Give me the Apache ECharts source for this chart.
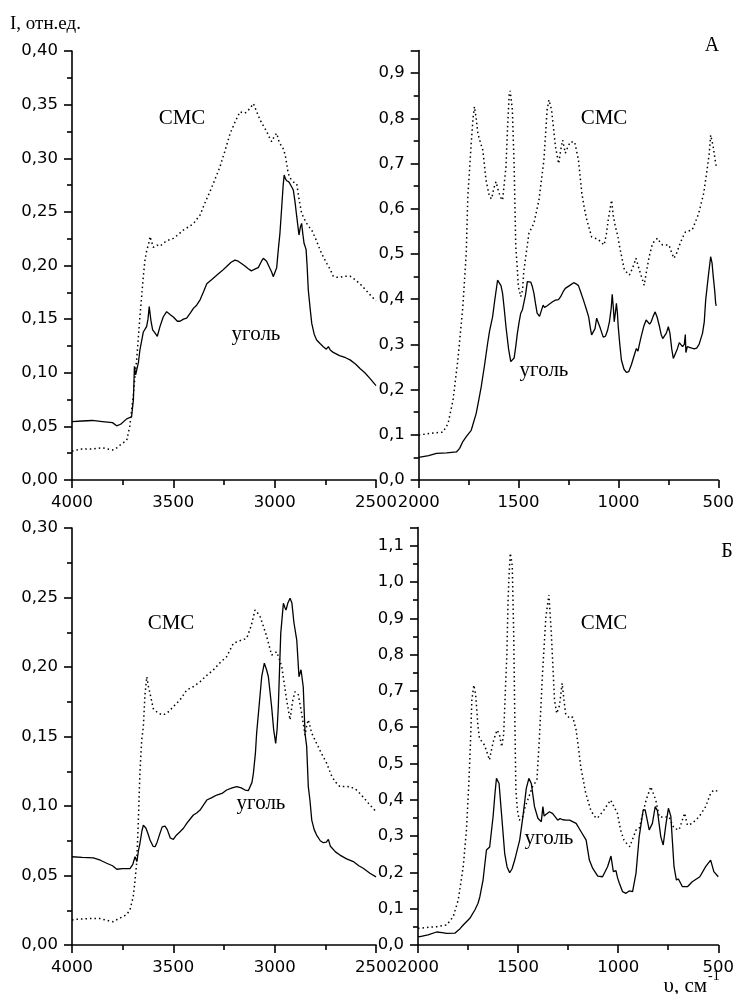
<!DOCTYPE html>
<html>
<head>
<meta charset="utf-8">
<script src="https://cdn.jsdelivr.net/npm/echarts@6/dist/echarts.min.js"></script>
<style>
  html, body { margin: 0; padding: 0; background: #fff; }
  #chart { width: 737px; height: 994px; }
</style>
</head>
<body>
<div id="chart"></div>
<script>
// IR spectra: coal ("уголь", solid) and detergent ("СМС", dotted), samples А and Б.
// Each curve: [wavenumber cm-1, intensity rel. units]

const xTicksHigh = [4000, 3500, 3000, 2500];
const xTicksLow = [2000, 1500, 1000, 500];

// Sample А, 4000–2500 cm-1
const coalA_high = [[4000,0.0545],[3950,0.055],[3900,0.0555],[3850,0.0545],[3800,0.0535],[3780,0.0505],[3760,0.052],[3730,0.057],[3706,0.059],[3697,0.075],[3692,0.106],[3686,0.098],[3681,0.097],[3672,0.110],[3665,0.121],[3648,0.138],[3632,0.143],[3625,0.150],[3619,0.1616],[3610,0.148],[3602,0.140],[3590,0.137],[3579,0.134],[3566,0.143],[3550,0.152],[3533,0.157],[3515,0.154],[3500,0.152],[3480,0.148],[3467,0.148],[3450,0.150],[3434,0.151],[3415,0.156],[3401,0.160],[3385,0.163],[3368,0.168],[3350,0.176],[3335,0.183],[3310,0.187],[3286,0.191],[3260,0.195],[3237,0.199],[3215,0.203],[3196,0.205],[3180,0.204],[3171,0.204],[3150,0.200],[3130,0.197],[3115,0.195],[3105,0.196],[3093,0.197],[3081,0.198],[3065,0.204],[3056,0.2067],[3040,0.204],[3031,0.203],[3015,0.194],[3007,0.1896],[2998,0.1896],[2990,0.198],[2982,0.215],[2974,0.230],[2965,0.255],[2958,0.275],[2953,0.2844],[2947,0.281],[2941,0.279],[2930,0.278],[2924,0.276],[2915,0.273],[2908,0.2704],[2900,0.260],[2891,0.2455],[2880,0.2284],[2873,0.236],[2867,0.2393],[2860,0.228],[2855,0.2207],[2845,0.215],[2840,0.200],[2834,0.177],[2825,0.160],[2817,0.146],[2805,0.136],[2793,0.1305],[2775,0.127],[2760,0.1243],[2745,0.122],[2735,0.1243],[2725,0.121],[2711,0.119],[2680,0.116],[2650,0.114],[2628,0.112],[2600,0.108],[2579,0.104],[2555,0.100],[2530,0.0948],[2500,0.088]];
const smsA_high = [[4000,0.027],[3950,0.029],[3900,0.029],[3850,0.030],[3800,0.028],[3785,0.029],[3760,0.033],[3730,0.037],[3715,0.050],[3698,0.078],[3690,0.095],[3681,0.112],[3673,0.132],[3665,0.152],[3656,0.172],[3648,0.19],[3640,0.205],[3631,0.2145],[3622,0.220],[3615,0.227],[3607,0.222],[3599,0.217],[3580,0.219],[3566,0.218],[3540,0.222],[3520,0.224],[3500,0.2253],[3475,0.229],[3451,0.233],[3425,0.236],[3401,0.239],[3385,0.243],[3368,0.247],[3345,0.258],[3319,0.269],[3295,0.280],[3270,0.292],[3245,0.307],[3220,0.323],[3195,0.334],[3171,0.3434],[3150,0.342],[3138,0.343],[3120,0.347],[3105,0.351],[3090,0.344],[3072,0.3357],[3055,0.330],[3039,0.3248],[3025,0.319],[3015,0.3155],[3000,0.321],[2990,0.3233],[2978,0.315],[2965,0.311],[2955,0.308],[2945,0.300],[2935,0.288],[2928,0.283],[2918,0.280],[2908,0.278],[2899,0.279],[2891,0.276],[2880,0.262],[2867,0.2487],[2858,0.247],[2845,0.240],[2830,0.236],[2817,0.233],[2800,0.226],[2776,0.2145],[2760,0.208],[2743,0.202],[2725,0.196],[2711,0.19],[2695,0.189],[2678,0.189],[2655,0.190],[2628,0.190],[2605,0.187],[2579,0.183],[2550,0.177],[2521,0.171],[2500,0.167]];

// Sample А, 2000–500 cm-1
const coalA_low = [[2000,0.050],[1994,0.050],[1950,0.054],[1911,0.059],[1860,0.060],[1811,0.062],[1795,0.070],[1779,0.085],[1760,0.097],[1737,0.11],[1712,0.1475],[1700,0.175],[1687,0.206],[1670,0.255],[1655,0.302],[1645,0.330],[1630,0.361],[1620,0.395],[1605,0.442],[1597,0.442],[1588,0.430],[1580,0.413],[1572,0.380],[1563,0.339],[1550,0.290],[1539,0.262],[1530,0.260],[1522,0.27],[1514,0.295],[1506,0.3245],[1497,0.350],[1489,0.369],[1481,0.376],[1473,0.38],[1465,0.410],[1456,0.439],[1447,0.441],[1439,0.438],[1431,0.428],[1423,0.413],[1415,0.390],[1407,0.369],[1395,0.362],[1385,0.358],[1377,0.387],[1370,0.382],[1358,0.385],[1340,0.391],[1328,0.395],[1315,0.398],[1300,0.399],[1290,0.405],[1275,0.418],[1266,0.424],[1245,0.430],[1224,0.4366],[1212,0.434],[1200,0.43],[1188,0.415],[1175,0.398],[1162,0.380],[1149,0.361],[1140,0.335],[1134,0.321],[1125,0.319],[1117,0.335],[1109,0.358],[1100,0.355],[1090,0.335],[1076,0.316],[1065,0.318],[1055,0.330],[1045,0.350],[1036,0.380],[1031,0.411],[1025,0.380],[1021,0.350],[1015,0.370],[1010,0.391],[1005,0.370],[1001,0.340],[993,0.300],[985,0.2655],[972,0.245],[960,0.238],[948,0.240],[935,0.255],[927,0.258],[918,0.280],[910,0.291],[902,0.285],[895,0.300],[886,0.317],[873,0.340],[861,0.354],[852,0.350],[844,0.345],[836,0.350],[826,0.362],[816,0.372],[806,0.360],[794,0.339],[786,0.322],[778,0.313],[770,0.310],[760,0.325],[750,0.339],[742,0.325],[733,0.290],[725,0.269],[715,0.270],[705,0.290],[695,0.304],[686,0.300],[679,0.295],[670,0.300],[665,0.322],[662,0.282],[655,0.295],[645,0.299],[633,0.292],[621,0.290],[608,0.292],[596,0.300],[579,0.3245],[570,0.350],[563,0.398],[550,0.45],[538,0.494],[531,0.480],[525,0.45],[518,0.420],[513,0.391],[510,0.385]];
const smsA_low = [[2000,0.0996],[1960,0.102],[1928,0.104],[1878,0.106],[1853,0.125],[1828,0.177],[1804,0.2655],[1779,0.383],[1762,0.5015],[1754,0.627],[1737,0.745],[1728,0.80],[1721,0.826],[1712,0.80],[1704,0.767],[1690,0.745],[1679,0.730],[1663,0.664],[1646,0.627],[1635,0.622],[1624,0.645],[1613,0.66],[1600,0.638],[1590,0.625],[1580,0.619],[1563,0.693],[1555,0.78],[1547,0.852],[1542,0.861],[1535,0.835],[1531,0.819],[1522,0.693],[1514,0.516],[1508,0.48],[1501,0.428],[1489,0.4056],[1480,0.42],[1474,0.46],[1464,0.494],[1456,0.52],[1448,0.546],[1423,0.568],[1398,0.619],[1373,0.708],[1357,0.819],[1348,0.841],[1335,0.82],[1315,0.737],[1299,0.70],[1289,0.73],[1279,0.752],[1266,0.723],[1255,0.735],[1241,0.748],[1219,0.748],[1200,0.708],[1183,0.634],[1170,0.60],[1158,0.575],[1134,0.538],[1100,0.532],[1085,0.525],[1071,0.52],[1060,0.545],[1051,0.575],[1040,0.605],[1034,0.619],[1026,0.586],[1015,0.560],[1011,0.56],[1003,0.54],[994,0.516],[970,0.4646],[945,0.4535],[928,0.47],[912,0.4905],[895,0.4646],[871,0.431],[860,0.46],[846,0.494],[829,0.5236],[815,0.53],[804,0.535],[790,0.525],[779,0.52],[747,0.52],[735,0.505],[722,0.4905],[710,0.50],[697,0.516],[680,0.535],[664,0.549],[631,0.553],[615,0.57],[598,0.590],[573,0.634],[556,0.686],[545,0.723],[538,0.763],[525,0.737],[513,0.70],[510,0.695]];

// Sample Б, 4000–2500 cm-1
const coalB_high = [[4000,0.0635],[3950,0.063],[3895,0.0627],[3860,0.061],[3829,0.0588],[3800,0.057],[3779,0.0545],[3750,0.055],[3714,0.055],[3700,0.058],[3689,0.0635],[3680,0.060],[3672,0.068],[3665,0.073],[3655,0.082],[3648,0.0863],[3635,0.084],[3625,0.080],[3615,0.0755],[3600,0.071],[3590,0.0707],[3580,0.074],[3566,0.0803],[3555,0.085],[3541,0.0856],[3530,0.083],[3515,0.077],[3500,0.076],[3485,0.079],[3467,0.0815],[3450,0.084],[3434,0.0875],[3415,0.091],[3401,0.0935],[3385,0.095],[3368,0.0971],[3350,0.101],[3335,0.1043],[3310,0.106],[3286,0.1079],[3260,0.109],[3237,0.1115],[3210,0.113],[3187,0.1139],[3165,0.113],[3146,0.1115],[3130,0.111],[3122,0.112],[3112,0.117],[3105,0.1235],[3095,0.138],[3089,0.1523],[3075,0.175],[3064,0.193],[3051,0.2027],[3040,0.198],[3031,0.193],[3015,0.1714],[3005,0.155],[2995,0.1451],[2988,0.155],[2982,0.1714],[2970,0.2242],[2957,0.2458],[2950,0.243],[2944,0.241],[2935,0.246],[2924,0.2494],[2915,0.246],[2905,0.232],[2891,0.2194],[2880,0.193],[2870,0.198],[2859,0.1858],[2850,0.152],[2842,0.1427],[2834,0.1139],[2826,0.1043],[2817,0.0899],[2805,0.083],[2793,0.0791],[2775,0.075],[2760,0.0736],[2745,0.074],[2735,0.076],[2725,0.071],[2719,0.0696],[2700,0.067],[2678,0.0647],[2645,0.062],[2612,0.060],[2585,0.057],[2563,0.0552],[2530,0.0516],[2500,0.049]];
const smsB_high = [[4000,0.018],[3977,0.0185],[3920,0.019],[3862,0.019],[3820,0.0175],[3796,0.0168],[3770,0.019],[3747,0.0204],[3730,0.022],[3714,0.0252],[3698,0.0347],[3690,0.045],[3681,0.0588],[3673,0.0876],[3665,0.1235],[3656,0.1475],[3648,0.157],[3640,0.180],[3631,0.193],[3623,0.186],[3615,0.181],[3599,0.170],[3574,0.1667],[3550,0.1655],[3530,0.167],[3516,0.169],[3490,0.173],[3467,0.1763],[3434,0.1835],[3400,0.186],[3368,0.1894],[3335,0.194],[3303,0.1978],[3270,0.203],[3237,0.2074],[3204,0.217],[3170,0.219],[3138,0.2206],[3115,0.230],[3097,0.241],[3085,0.239],[3072,0.2362],[3055,0.229],[3039,0.2218],[3015,0.2086],[3000,0.210],[2990,0.211],[2978,0.206],[2965,0.2002],[2941,0.1763],[2924,0.162],[2912,0.175],[2900,0.1822],[2883,0.180],[2867,0.1667],[2850,0.151],[2842,0.158],[2834,0.162],[2817,0.1523],[2793,0.1451],[2770,0.138],[2743,0.1307],[2720,0.122],[2702,0.1175],[2678,0.1139],[2650,0.114],[2628,0.1139],[2600,0.112],[2579,0.109],[2555,0.105],[2530,0.1007],[2500,0.096]];

// Sample Б, 2000–500 cm-1
const coalB_low = [[2000,0.023],[1990,0.0229],[1950,0.028],[1907,0.0358],[1880,0.034],[1857,0.032],[1816,0.0326],[1790,0.045],[1774,0.055],[1741,0.0735],[1716,0.0964],[1700,0.115],[1691,0.133],[1675,0.179],[1658,0.2617],[1650,0.2663],[1642,0.270],[1625,0.3534],[1615,0.42],[1608,0.459],[1600,0.455],[1595,0.445],[1583,0.3628],[1567,0.2526],[1555,0.215],[1542,0.199],[1530,0.210],[1517,0.234],[1492,0.289],[1476,0.353],[1459,0.4316],[1446,0.459],[1440,0.455],[1434,0.445],[1418,0.381],[1401,0.349],[1384,0.3397],[1376,0.381],[1370,0.355],[1360,0.360],[1343,0.367],[1327,0.362],[1302,0.344],[1290,0.348],[1277,0.345],[1260,0.344],[1243,0.344],[1210,0.335],[1185,0.312],[1160,0.289],[1144,0.234],[1127,0.211],[1102,0.190],[1078,0.188],[1053,0.2157],[1036,0.245],[1024,0.202],[1011,0.205],[1003,0.185],[994,0.170],[978,0.1468],[961,0.1423],[945,0.149],[928,0.1468],[911,0.1974],[895,0.298],[875,0.372],[865,0.372],[845,0.3168],[829,0.335],[815,0.381],[804,0.37],[787,0.298],[775,0.2755],[762,0.33],[749,0.3765],[737,0.355],[721,0.2157],[709,0.179],[699,0.182],[692,0.185],[679,0.1606],[654,0.1606],[630,0.1744],[592,0.188],[563,0.2157],[538,0.234],[522,0.202],[500,0.188]];
const smsB_low = [[2000,0.046],[1960,0.048],[1907,0.0505],[1857,0.055],[1824,0.078],[1799,0.124],[1774,0.2157],[1758,0.3168],[1746,0.4454],[1738,0.5556],[1731,0.675],[1721,0.716],[1712,0.69],[1700,0.60],[1693,0.569],[1680,0.56],[1668,0.551],[1655,0.53],[1643,0.5096],[1632,0.54],[1622,0.5647],[1605,0.592],[1593,0.58],[1582,0.546],[1572,0.58],[1565,0.68],[1560,0.7485],[1556,0.80],[1550,0.95],[1545,1.02],[1539,1.079],[1533,1.06],[1529,1.042],[1522,0.859],[1517,0.65],[1511,0.427],[1503,0.37],[1494,0.344],[1477,0.3534],[1465,0.38],[1452,0.3994],[1428,0.436],[1406,0.4545],[1394,0.5647],[1378,0.748],[1361,0.9044],[1346,0.964],[1334,0.859],[1318,0.675],[1307,0.638],[1293,0.66],[1280,0.721],[1263,0.638],[1243,0.6245],[1227,0.628],[1210,0.592],[1200,0.55],[1187,0.491],[1162,0.418],[1137,0.372],[1120,0.355],[1104,0.349],[1071,0.372],[1038,0.3994],[1004,0.363],[988,0.3168],[971,0.289],[955,0.278],[942,0.271],[911,0.3168],[895,0.32],[878,0.36],[860,0.40],[837,0.436],[812,0.399],[795,0.353],[770,0.352],[746,0.353],[721,0.3214],[696,0.317],[668,0.363],[654,0.33],[630,0.335],[596,0.353],[563,0.381],[538,0.418],[522,0.427],[500,0.423]];

const chart = echarts.init(document.getElementById('chart'), null, { renderer: 'canvas' });

const BLACK = '#000';
const tickFont = { color: BLACK, fontFamily: 'DejaVu Sans', fontSize: 16.5 };

function commaFmt(digits, step) {
  return function (v) {
    const k = Math.round(v / step);
    if (Math.abs(k * step - v) > 1e-6) return '';
    return v.toFixed(digits).replace('.', ',');
  };
}

function xAxisDef(grid, min, max, ticks) {
  return {
    type: 'value', gridIndex: grid, min: min, max: max, interval: 500, inverse: true,
    axisLine: { show: true, onZero: false, lineStyle: { color: BLACK, width: 1.6 } },
    axisTick: { show: true, inside: false, length: 8, lineStyle: { color: BLACK, width: 1.6 } },
    minorTick: { show: true, splitNumber: 2, length: 5, lineStyle: { color: BLACK, width: 1.6 } },
    splitLine: { show: false },
    axisLabel: Object.assign({ margin: 14, showMinLabel: true, showMaxLabel: true,
      formatter: function (v) { return ticks.indexOf(v) >= 0 ? String(v) : ''; } }, tickFont)
  };
}

function yAxisDef(grid, max, step, digits) {
  return {
    type: 'value', gridIndex: grid, min: 0, max: max, interval: step,
    axisLine: { show: true, onZero: false, lineStyle: { color: BLACK, width: 1.6 } },
    axisTick: { show: true, inside: false, length: 8, lineStyle: { color: BLACK, width: 1.6 } },
    minorTick: { show: true, splitNumber: 2, length: 5, lineStyle: { color: BLACK, width: 1.6 } },
    splitLine: { show: false },
    axisLabel: Object.assign({ margin: 14, showMinLabel: true, showMaxLabel: true,
      formatter: commaFmt(digits, step) }, tickFont)
  };
}

function solid(data, idx) {
  return { type: 'line', xAxisIndex: idx, yAxisIndex: idx, data: data, symbol: 'none',
    lineStyle: { color: BLACK, width: 1.3 }, animation: false, z: 3 };
}
function dotted(data, idx) {
  return { type: 'line', xAxisIndex: idx, yAxisIndex: idx, data: data, symbol: 'none',
    lineStyle: { color: BLACK, width: 1.5, type: [1.5, 3] }, animation: false, z: 2 };
}

function label(text, x, y, size, align) {
  return { type: 'text', x: x, y: y, silent: true,
    style: { text: text, fill: BLACK, font: size + 'px "Liberation Serif", "Times New Roman", serif',
      textAlign: align || 'center', textVerticalAlign: 'middle' } };
}

chart.setOption({
  backgroundColor: '#fff',
  animation: false,
  grid: [
    { left: 72, top: 51, width: 304, height: 429 },
    { left: 418.7, top: 50.6, width: 302.3, height: 429.4 },
    { left: 72, top: 528, width: 304, height: 417 },
    { left: 418, top: 527.5, width: 301.3, height: 417.5 }
  ],
  xAxis: [
    xAxisDef(0, 2500, 4000, xTicksHigh),
    xAxisDef(1, 500, 2000, xTicksLow),
    xAxisDef(2, 2500, 4000, xTicksHigh),
    xAxisDef(3, 500, 2000, xTicksLow)
  ],
  yAxis: [
    yAxisDef(0, 0.40, 0.05, 2),
    yAxisDef(1, 0.95, 0.1, 1),
    yAxisDef(2, 0.30, 0.05, 2),
    yAxisDef(3, 1.15, 0.1, 1)
  ],
  series: [
    dotted(smsA_high, 0), solid(coalA_high, 0),
    dotted(smsA_low, 1), solid(coalA_low, 1),
    dotted(smsB_high, 2), solid(coalB_high, 2),
    dotted(smsB_low, 3), solid(coalB_low, 3)
  ],
  graphic: [
    label('I, отн.ед.', 10, 24, 19, 'left'),
    label('А', 712, 46, 20),
    label('Б', 727, 552, 20),
    label('СМС', 182, 118, 21),
    label('СМС', 604, 118, 21),
    label('уголь', 256, 334, 21),
    label('уголь', 544, 370, 21),
    label('СМС', 171, 623, 21),
    label('СМС', 604, 623, 21),
    label('уголь', 261, 803, 21),
    label('уголь', 549, 838, 21),
    label('υ, см', 707, 986, 21, 'right'),
    label('-1', 708, 976, 14, 'left')
  ]
});
</script>
</body>
</html>
